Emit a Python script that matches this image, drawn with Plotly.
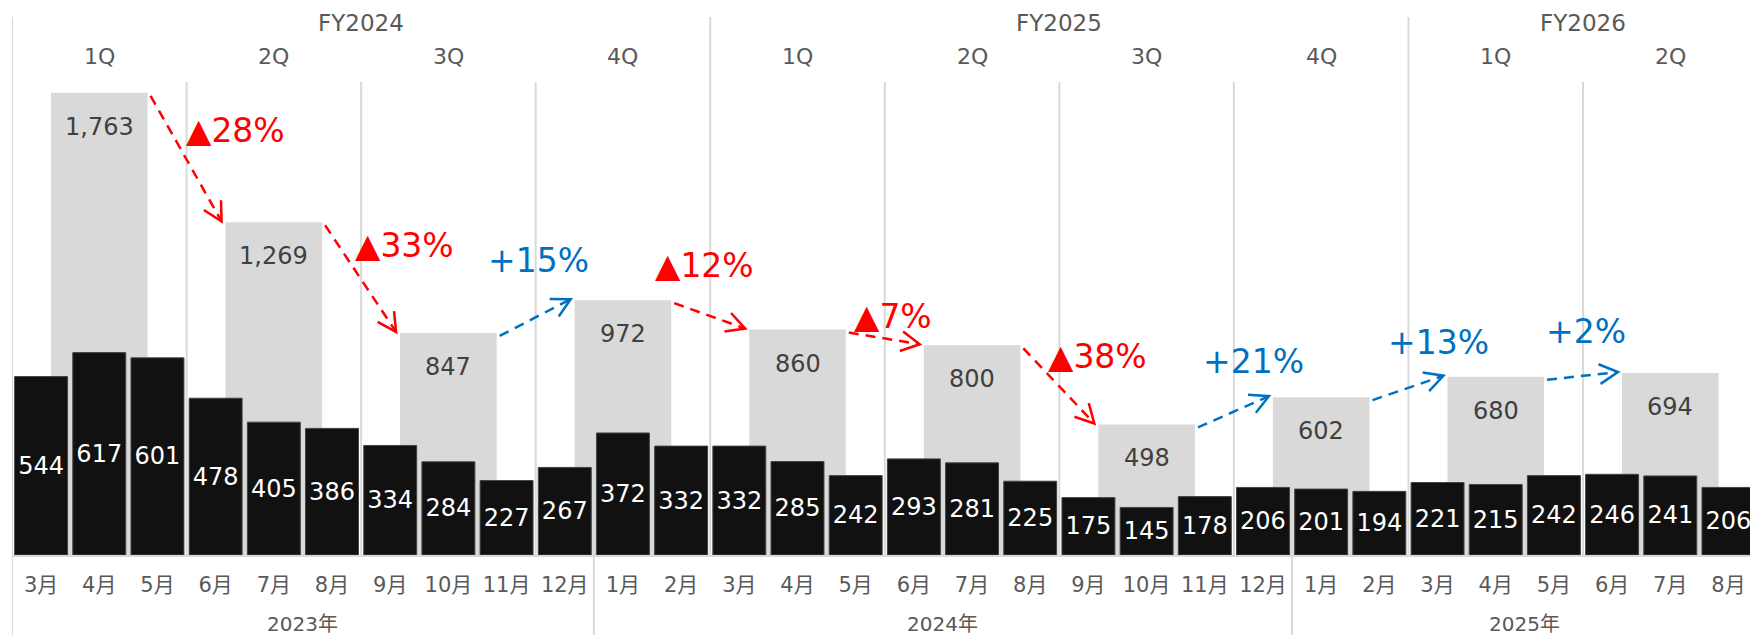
import math
import plotly.graph_objects as go

# ---- data -------------------------------------------------------------
months = ["3月", "4月", "5月", "6月", "7月", "8月", "9月", "10月", "11月", "12月",
          "1月", "2月", "3月", "4月", "5月", "6月", "7月", "8月", "9月", "10月", "11月", "12月",
          "1月", "2月", "3月", "4月", "5月", "6月", "7月", "8月"]
monthly_units = [544, 617, 601, 478, 405, 386, 334, 284, 227, 267,
                 372, 332, 332, 285, 242, 293, 281, 225, 175, 145, 178, 206,
                 201, 194, 221, 215, 242, 246, 241, 206]
quarter_names = ["1Q", "2Q", "3Q", "4Q", "1Q", "2Q", "3Q", "4Q", "1Q", "2Q"]
quarterly_units = [1763, 1269, 847, 972, 860, 800, 498, 602, 680, 694]
fiscal_years = ["FY2024", "FY2025", "FY2026"]
calendar_years = ["2023年", "2024年", "2025年"]

# ---- layout constants -------------------------------------------------
W, H = 1750, 635
M_L, M_B = 12, 80
X_RANGE = [-0.5, 29.37]
Y1_TOP = 2117   # quarterly axis
Y2_TOP = 1692   # monthly axis
PLOT_W = W - M_L
PLOT_H = H - M_B
PX_X = PLOT_W / (X_RANGE[1] - X_RANGE[0])
PX_Y1 = PLOT_H / Y1_TOP

FONT = "DejaVu Sans, Noto Sans CJK JP, sans-serif"
GRID = "#d9d9d9"
LABEL = "#595959"
RED = "#ff0000"
BLUE = "#0070c0"
Q_WIDTH = 1.66
M_WIDTH = 0.91


def paper_y(ypx):
    """Page pixel row (from top) -> paper y coordinate."""
    return (PLOT_H - ypx) / PLOT_H


n_months = len(months)
month_x = list(range(n_months))
quarter_x = [3 * i + 1 for i in range(len(quarterly_units))]

fig = go.Figure()

# quarterly totals (light grey, behind)
fig.add_trace(go.Bar(
    x=quarter_x, y=quarterly_units, width=Q_WIDTH,
    marker=dict(color="#d9d9d9", line=dict(width=0)),
    yaxis="y", hoverinfo="skip", showlegend=False,
))

# monthly values (black, front)
fig.add_trace(go.Bar(
    x=month_x, y=monthly_units, width=M_WIDTH,
    marker=dict(color="#111111", line=dict(color="#444444", width=1)),
    text=[str(v) for v in monthly_units], textposition="inside",
    insidetextanchor="middle", textangle=0,
    textfont=dict(family=FONT, size=24, color="white"),
    yaxis="y2", hoverinfo="skip", showlegend=False,
))

shapes = []
annotations = []

# vertical separators
for b in range(3, n_months, 3):
    xb = b - 0.5
    top = 17 if b % 12 == 0 else 82
    shapes.append(dict(type="line", xref="x", yref="paper", x0=xb, x1=xb,
                       y0=paper_y(top), y1=paper_y(PLOT_H), layer="below",
                       line=dict(color=GRID, width=2)))
shapes.append(dict(type="line", xref="x", yref="paper", x0=-0.5, x1=-0.5,
                   y0=paper_y(17), y1=paper_y(H), layer="below",
                   line=dict(color=GRID, width=2)))
year_starts = [0] + [i for i, m in enumerate(months) if m == "1月"]
for s in year_starts[1:]:
    shapes.append(dict(type="line", xref="x", yref="paper", x0=s - 0.5, x1=s - 0.5,
                       y0=paper_y(PLOT_H), y1=paper_y(H), layer="below",
                       line=dict(color=GRID, width=2)))

# quarterly value labels
for xq, v in zip(quarter_x, quarterly_units):
    annotations.append(dict(x=xq, y=v, xref="x", yref="y", text=f"{v:,}",
                            showarrow=False, yanchor="middle", yshift=-34,
                            font=dict(family=FONT, size=24, color="#404040")))

# quarter-over-quarter change arrows
label_shift = [(49, -28), (44, -33), (3, -57), (-5, -50), (9, -22),
               (39, -29), (20, -50), (31, -45), (3, -44)]
for i in range(len(quarterly_units) - 1):
    v0, v1 = quarterly_units[i], quarterly_units[i + 1]
    change = round((v1 / v0 - 1) * 100)
    color = RED if change < 0 else BLUE
    text = f"▲{abs(change)}%" if change < 0 else f"+{change}%"

    x0 = quarter_x[i] + Q_WIDTH / 2 + 3 / PX_X
    y0 = v0 - 3 / PX_Y1
    x1 = quarter_x[i + 1] - Q_WIDTH / 2 - 4 / PX_X
    y1 = v1 + 1 / PX_Y1

    shapes.append(dict(type="line", xref="x", yref="y", x0=x0, y0=y0, x1=x1, y1=y1,
                       line=dict(color=color, width=2.5, dash="10px,7px")))

    # open arrow head, built in screen pixels
    dxp = (x1 - x0) * PX_X
    dyp = -(y1 - y0) * PX_Y1
    norm = math.hypot(dxp, dyp)
    ux, uy = -dxp / norm, -dyp / norm
    pts = []
    for ang in (math.radians(28), -math.radians(28)):
        wx = ux * math.cos(ang) - uy * math.sin(ang)
        wy = ux * math.sin(ang) + uy * math.cos(ang)
        pts.append((x1 + 21 * wx / PX_X, y1 - 21 * wy / PX_Y1))
    path = f"M {pts[0][0]},{pts[0][1]} L {x1},{y1} L {pts[1][0]},{pts[1][1]}"
    shapes.append(dict(type="path", xref="x", yref="y", path=path,
                       line=dict(color=color, width=2.5)))

    sx, sy = label_shift[i]
    annotations.append(dict(x=(x0 + x1) / 2, y=(y0 + y1) / 2, xref="x", yref="y",
                            text=text, showarrow=False, xshift=sx, yshift=-sy,
                            xanchor="center", yanchor="middle",
                            font=dict(family=FONT, size=33, color=color)))

# quarter and fiscal-year headers
for xq, q in zip(quarter_x, quarter_names):
    annotations.append(dict(x=xq, y=paper_y(57), xref="x", yref="paper", text=q,
                            showarrow=False, yanchor="middle",
                            font=dict(family=FONT, size=22, color=LABEL)))
for k, fy in enumerate(fiscal_years):
    a, b = 12 * k, min(12 * k + 11, n_months - 1)
    annotations.append(dict(x=(a + b) / 2, y=paper_y(23), xref="x", yref="paper", text=fy,
                            showarrow=False, yanchor="middle",
                            font=dict(family=FONT, size=23, color=LABEL)))

# calendar-year labels under the month axis
year_ends = [s - 1 for s in year_starts[1:]] + [n_months - 1]
for s, e, yr in zip(year_starts, year_ends, calendar_years):
    annotations.append(dict(x=(s + e) / 2, y=paper_y(624), xref="x", yref="paper", text=yr,
                            showarrow=False, yanchor="middle",
                            font=dict(family=FONT, size=20, color=LABEL)))

fig.update_layout(
    width=W, height=H,
    margin=dict(l=M_L, r=0, t=0, b=M_B, pad=0),
    paper_bgcolor="white", plot_bgcolor="white",
    barmode="overlay", showlegend=False,
    xaxis=dict(range=X_RANGE, tickmode="array", tickvals=month_x, ticktext=months,
               tickfont=dict(family=FONT, size=21, color=LABEL),
               ticks="", ticklabelstandoff=10, showgrid=False, zeroline=False,
               showline=True, linecolor=GRID, linewidth=2, automargin=False,
               fixedrange=True),
    yaxis=dict(range=[0, Y1_TOP], visible=False, showgrid=False, zeroline=False,
               fixedrange=True),
    yaxis2=dict(range=[0, Y2_TOP], overlaying="y", side="right", visible=False,
                showgrid=False, zeroline=False, fixedrange=True),
    shapes=shapes, annotations=annotations,
    font=dict(family=FONT),
)

fig.write_html("out.html", config={"displayModeBar": False})
